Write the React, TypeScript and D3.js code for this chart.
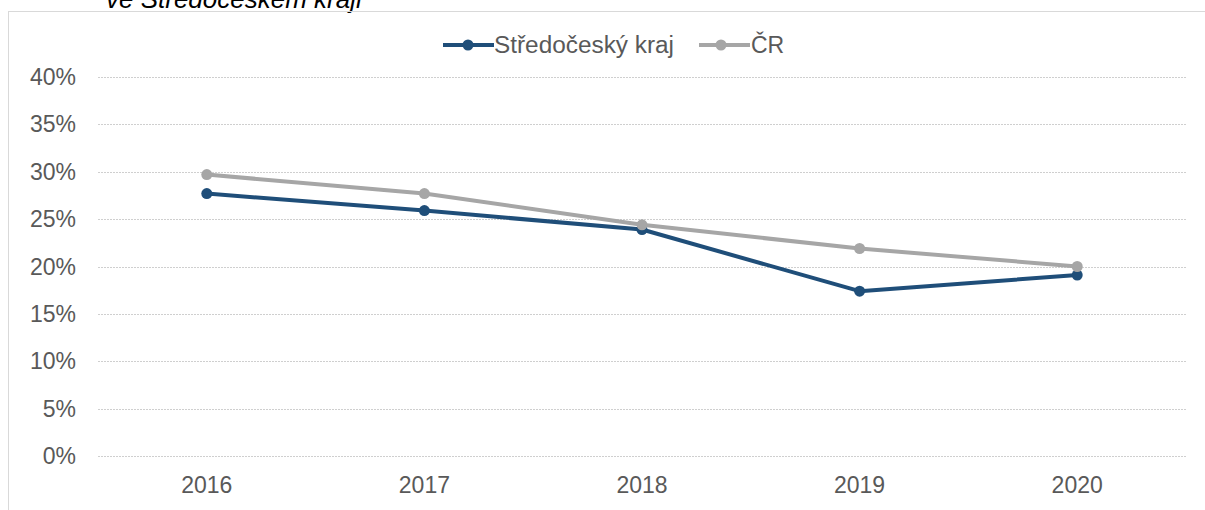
import * as d3 from "d3";

const years = ["2016", "2017", "2018", "2019", "2020"];
const stredocesky = [27.7, 25.9, 23.9, 17.4, 19.1];
const cr = [29.7, 27.7, 24.4, 21.9, 20.0];
const yTicks = [0, 5, 10, 15, 20, 25, 30, 35, 40];

const seriesList = [
  { name: "Středočeský kraj", values: stredocesky, color: "#1f4e79" },
  { name: "ČR", values: cr, color: "#a6a6a6" },
];

export default function App() {
  const width = 1205;
  const height = 510;
  const left = 98;
  const right = 1186;

  const x = d3.scaleBand<string>().domain(years).range([left, right]);
  const y = d3.scaleLinear().domain([0, 40]).range([456, 77]);

  const line = d3
    .line<number>()
    .x((_, i) => (x(years[i]) ?? 0) + x.bandwidth() / 2)
    .y((d) => y(d));

  const font = "'Liberation Sans', Arial, sans-serif";

  return (
    <svg
      width={width}
      height={height}
      style={{ position: "absolute", left: 0, top: 0, fontFamily: font }}
    >
      <rect width={width} height={height} fill="#fff" />
      {/* title, cut off by the top edge as in the source */}
      <text x={106} y={8} fontSize={26} fontStyle="italic" fill="#000">
        ve Středočeském kraji
      </text>
      <rect x={8.5} y={11.5} width={1210} height={520} fill="none" stroke="#d9d9d9" />

      {yTicks.map((t) => (
        <g key={t}>
          <line
            x1={left}
            x2={right}
            y1={Math.round(y(t)) + 0.5}
            y2={Math.round(y(t)) + 0.5}
            stroke="#cfcfcf"
            strokeDasharray="2,1"
          />
          <text
            x={76}
            y={y(t)}
            dy="0.35em"
            textAnchor="end"
            fontSize={23}
            fill="#595959"
          >
            {t}%
          </text>
        </g>
      ))}

      {years.map((yr) => (
        <text
          key={yr}
          x={(x(yr) ?? 0) + x.bandwidth() / 2}
          y={485}
          dy="0.35em"
          textAnchor="middle"
          fontSize={23}
          fill="#595959"
        >
          {yr}
        </text>
      ))}

      {seriesList.map((s) => (
        <g key={s.name}>
          <path d={line(s.values) ?? ""} fill="none" stroke={s.color} strokeWidth={4} strokeLinejoin="round" />
          {s.values.map((v, i) => (
            <circle
              key={i}
              cx={(x(years[i]) ?? 0) + x.bandwidth() / 2}
              cy={y(v)}
              r={5.5}
              fill={s.color}
            />
          ))}
        </g>
      ))}

      {/* legend */}
      <g fontSize={23} fill="#595959">
        <line x1={443} x2={494} y1={45} y2={45} stroke={seriesList[0].color} strokeWidth={4} />
        <circle cx={468} cy={45} r={5.5} fill={seriesList[0].color} />
        <text x={494} y={45} dy="0.35em" textLength={180} lengthAdjust="spacingAndGlyphs">{seriesList[0].name}</text>
        <line x1={699} x2={750} y1={45} y2={45} stroke={seriesList[1].color} strokeWidth={4} />
        <circle cx={721} cy={45} r={5.5} fill={seriesList[1].color} />
        <text x={751} y={45} dy="0.35em">{seriesList[1].name}</text>
      </g>
    </svg>
  );
}
